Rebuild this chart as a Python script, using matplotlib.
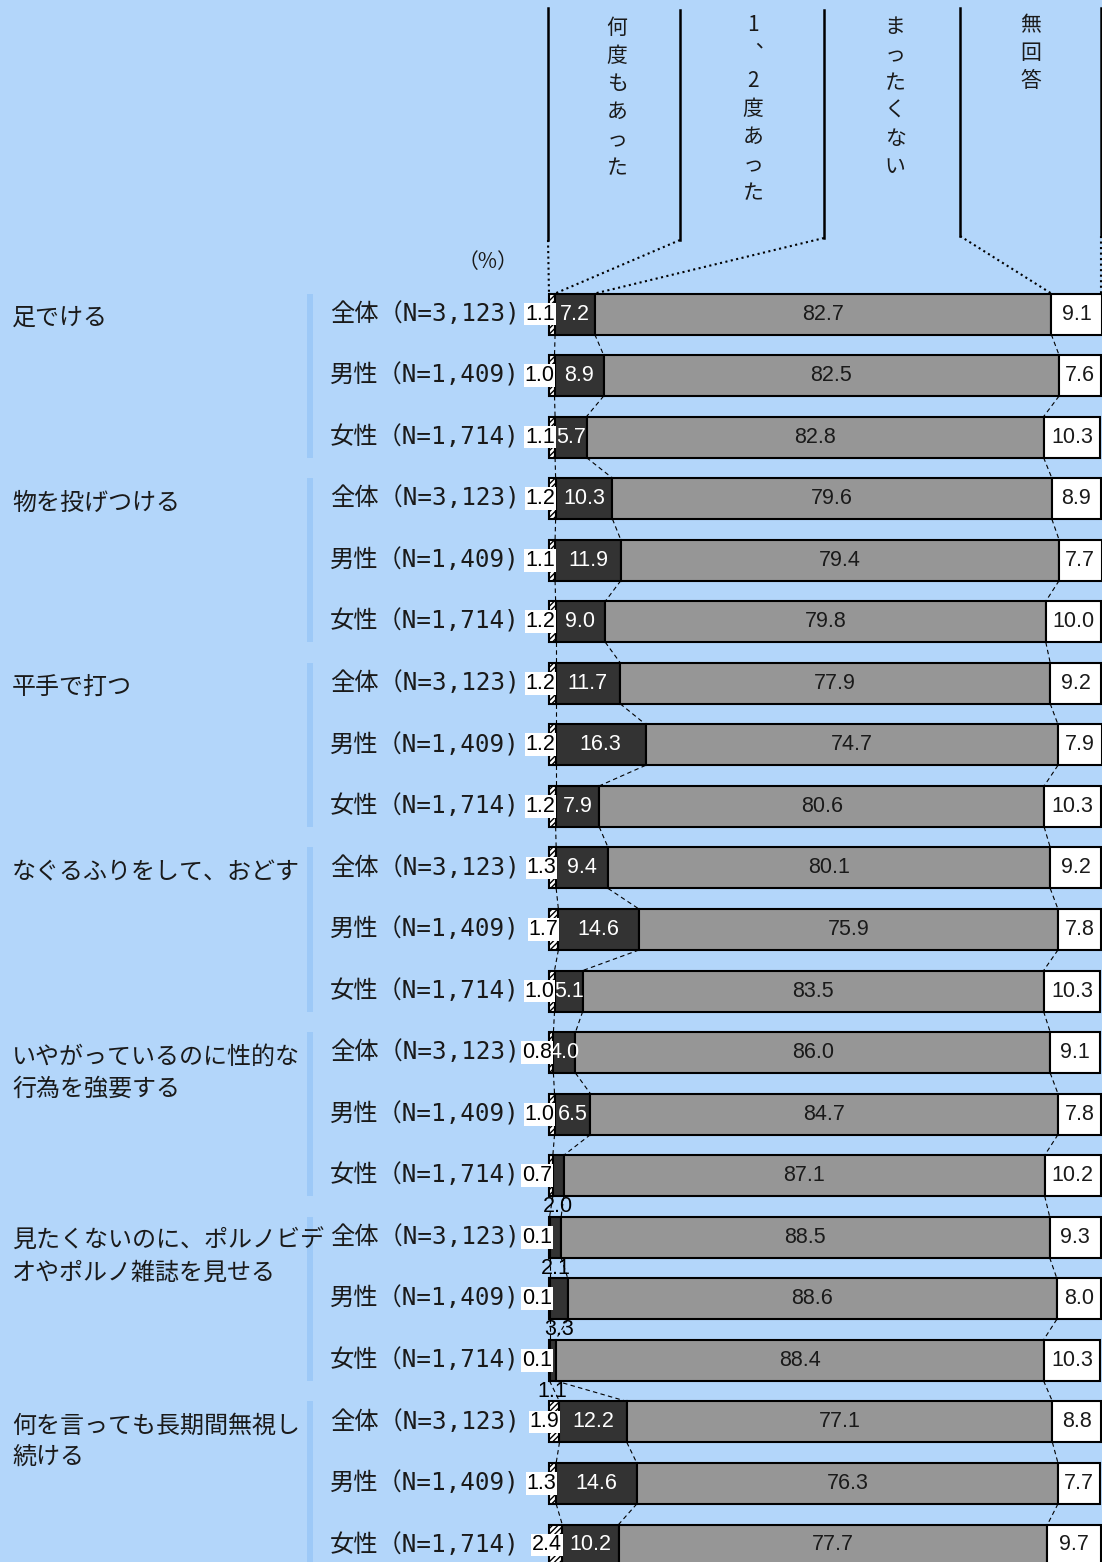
import numpy as np
import matplotlib.pyplot as plt
from matplotlib import font_manager

plt.rcParams['font.family'] = ['Noto Sans CJK JP', 'DejaVu Sans']
plt.rcParams['hatch.color'] = '#333333'
plt.rcParams['hatch.linewidth'] = 1.0

# 暴力の種類と回答者区分
categories = ["足でける", "物を投げつける", "平手で打つ", "なぐるふりをして、おどす",
              "いやがっているのに性的な\n行為を強要する",
              "見たくないのに、ポルノビデ\nオやポルノ雑誌を見せる",
              "何を言っても長期間無視し\n続ける"]
groups = ["全体（N=3,123)", "男性（N=1,409)", "女性（N=1,714)"]
answers = ["何度もあった", "1、2度あった", "まったくない", "無回答"]

# 各行の割合（%）：カテゴリごとに 全体・男性・女性 の順
many = [1.1, 1.0, 1.1, 1.2, 1.1, 1.2, 1.2, 1.2, 1.2, 1.3, 1.7, 1.0,
        0.8, 1.0, 0.7, 0.1, 0.1, 0.1, 1.9, 1.3, 2.4]
once = [7.2, 8.9, 5.7, 10.3, 11.9, 9.0, 11.7, 16.3, 7.9, 9.4, 14.6, 5.1,
        4.0, 6.5, 2.0, 2.1, 3.3, 1.1, 12.2, 14.6, 10.2]
never = [82.7, 82.5, 82.8, 79.6, 79.4, 79.8, 77.9, 74.7, 80.6, 80.1, 75.9, 83.5,
         86.0, 84.7, 87.1, 88.5, 88.6, 88.4, 77.1, 76.3, 77.7]
noans = [9.1, 7.6, 10.3, 8.9, 7.7, 10.0, 9.2, 7.9, 10.3, 9.2, 7.8, 10.3,
         9.1, 7.8, 10.2, 9.3, 8.0, 10.3, 8.8, 7.7, 9.7]

bg = '#b3d6fa'
W, H = 1102, 1562
X0, PX_PER = 549, 5.52      # 0% の位置と 1% あたりの幅
ROW0, ROW_STEP = 314, 61.55  # 1 行目の中心と行間

# 数値は細めの欧文フォントで
installed = {f.name for f in font_manager.fontManager.ttflist}
if 'Liberation Sans Narrow' in installed:
    num_font = dict(family='Liberation Sans Narrow', fontsize=17)
else:
    num_font = dict(family='Liberation Sans', fontsize=15.5)
# 件数部分は等幅で
label_family = ['DejaVu Sans Mono', 'Noto Sans CJK JP']


def hx(px):
    return (px - X0) / PX_PER


def hy(py):
    return (py - ROW0) / ROW_STEP


fig = plt.figure(figsize=(W / 100, H / 100), dpi=100)
fig.patch.set_facecolor(bg)
ax = fig.add_axes([0, 0, 1, 1])
ax.set_facecolor(bg)
ax.set_xlim(hx(0), hx(W))
ax.set_ylim(hy(H), hy(0))
ax.axis('off')

n = len(many)
y = np.arange(n)
many = np.array(many)
once = np.array(once)
never = np.array(never)
noans = np.array(noans)
c1 = many
c2 = c1 + once
c3 = c2 + never
bh = 41 / ROW_STEP

ax.barh(y, many, left=0, height=bh, color='white', edgecolor='black',
        linewidth=1.5, hatch='//////', zorder=3)
ax.barh(y, once, left=c1, height=bh, color='#333333', edgecolor='black',
        linewidth=1.5, zorder=3)
ax.barh(y, never, left=c2, height=bh, color='#969696', edgecolor='black',
        linewidth=1.5, zorder=3)
ax.barh(y, noans, left=c3, height=bh, color='white', edgecolor='black',
        linewidth=1.5, zorder=3)

# 区分線（行と行の間の破線）
for i in range(n - 1):
    for c in (c1, c2, c3):
        ax.plot([c[i], c[i + 1]], [i + bh / 2, i + 1 - bh / 2], color='black',
                lw=0.8, ls=(0, (4, 3)), zorder=2)

# 数値ラベル
for i in range(n):
    lx = c1[i] if many[i] >= 1 else 0.5
    ax.text(lx, y[i], f"{many[i]:.1f}", ha='right', va='center', color='black',
            bbox=dict(facecolor='white', edgecolor='none', pad=0.6), zorder=5, **num_font)
    if once[i] >= 3.5:
        ax.text((c1[i] + c2[i]) / 2, y[i], f"{once[i]:.1f}", ha='center', va='center',
                color='white', zorder=5, **num_font)
    else:
        ax.text((c1[i] + c2[i]) / 2, y[i] + 0.5, f"{once[i]:.1f}", ha='center',
                va='center', color='black', zorder=5, **num_font)
    ax.text((c2[i] + c3[i]) / 2, y[i], f"{never[i]:.1f}", ha='center', va='center',
            color='#1a1a1a', zorder=5, **num_font)
    ax.text((c3[i] + min(c3[i] + noans[i], hx(W))) / 2, y[i], f"{noans[i]:.1f}",
            ha='center', va='center', color='#1a1a1a', zorder=5, **num_font)

# 左側の見出し
for g, cat in enumerate(categories):
    first = 3 * g
    ax.add_patch(plt.Rectangle((hx(307), first - bh / 2), hx(313) - hx(307),
                               2 + bh, color='#9dc9f7', lw=0, zorder=1))
    for k, line in enumerate(cat.split('\n')):
        ax.text(hx(12), first + hy(ROW0 + 4 + 32 * k), line, ha='left', va='center',
                fontsize=17.3, color='#1a1a1a')
    for k, lab in enumerate(groups):
        ax.text(hx(330), first + k, lab, ha='left', va='center', fontsize=17.5,
                color='#1a1a1a', family=label_family)

ax.text(hx(488), hy(262), "（%）", ha='center', va='center', fontsize=15,
        color='#1a1a1a')

# 凡例（縦書きの列見出し）
sep_x = [548, 680, 824, 960, 1101]
sep_top = [8, 10, 10, 8, 8]
sep_bot = [240, 240, 238, 236, 236]
ends = [0, c1[0], c2[0], c3[0], 100]
for sx, st, sb, e in zip(sep_x, sep_top, sep_bot, ends):
    ax.plot([hx(sx), hx(sx)], [hy(st), hy(sb)], color='black', lw=1.8)
    ax.plot([hx(sx), e], [hy(sb), -bh / 2], color='black', lw=1.5, ls=':')

col_x = [617, 753, 895, 1031]
col_y0 = [28, 25, 27, 25]
for lab, cx, cy in zip(answers, col_x, col_y0):
    chars = list(lab.replace('、', '︑'))
    for k, ch in enumerate(chars):
        ax.text(hx(cx), hy(cy + 28 * k), ch, ha='center', va='center', fontsize=15,
                color='#1a1a1a')

fig.savefig('out.png', dpi=100, facecolor=bg)
